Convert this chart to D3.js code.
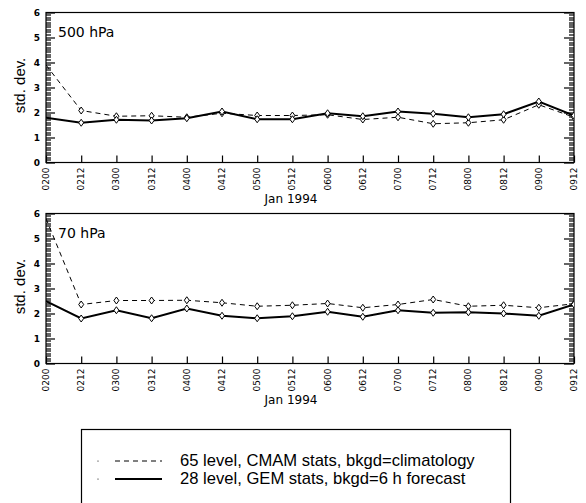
<!DOCTYPE html>
<html>
<head>
<meta charset="utf-8">
<script src="https://cdn.jsdelivr.net/npm/d3@7"></script>
<style>
	body { margin: 0; background: #fff; }
	svg { display: block; }
	.tick-label { font-family: "DejaVu Sans", sans-serif; font-size: 9px; }
	.panel-title { font-family: "DejaVu Sans", sans-serif; font-size: 14px; }
	.axis-title { font-family: "DejaVu Sans", sans-serif; font-size: 12px; }
	.ytitle { font-family: "Liberation Sans", Arial, sans-serif; font-size: 15px; }
	.legend-text { font-family: "Liberation Sans", Arial, sans-serif; font-size: 16.6px; }
</style>
</head>
<body>
<script>

// times (ddhh, Jan 1994)
const times = ['0200','0212','0300','0312','0400','0412','0500','0512',
	'0600','0612','0700','0712','0800','0812','0900','0912'];

const yTicks = [0, 1, 2, 3, 4, 5, 6];

// 500 hPa
const cmam500 = [3.9, 2.08, 1.85, 1.87, 1.81, 1.97, 1.88, 1.88,
	1.91, 1.72, 1.81, 1.55, 1.59, 1.71, 2.31, 1.81];
const gem500 = [1.79, 1.59, 1.71, 1.68, 1.77, 2.04, 1.73, 1.73,
	1.97, 1.85, 2.04, 1.95, 1.81, 1.93, 2.44, 1.88];

// 70 hPa
const cmam70 = [5.8, 2.36, 2.52, 2.52, 2.53, 2.43, 2.29, 2.33,
	2.4, 2.23, 2.36, 2.56, 2.29, 2.33, 2.23, 2.39];
const gem70 = [2.49, 1.8, 2.13, 1.81, 2.2, 1.91, 1.81, 1.89,
	2.07, 1.87, 2.13, 2.03, 2.05, 2.0, 1.91, 2.36];

const panels = [
	{title: '500 hPa', cmam: cmam500, gem: gem500, top: 12.5},
	{title: '70 hPa', cmam: cmam70, gem: gem70, top: 213.5}
];

const legendItems = [
	{label: '65 level, CMAM stats, bkgd=climatology', dash: '5,4', width: 1},
	{label: '28 level, GEM stats, bkgd=6 h forecast', dash: null, width: 2}
];

const width = 586, height = 503;
const left = 46, right = 574, ph = 150;

const svg = d3.select('body').append('svg')
	.attr('width', width)
	.attr('height', height);

const x = d3.scalePoint().domain(times).range([left, right]);

panels.forEach((p, pi) => {

	const y = d3.scaleLinear().domain([0, 6]).range([p.top + ph, p.top]);
	const g = svg.append('g');

	const clipId = 'clip' + pi;
	svg.append('clipPath').attr('id', clipId)
		.append('rect')
		.attr('x', left).attr('y', p.top)
		.attr('width', right - left).attr('height', ph);

	// frame
	g.append('rect')
		.attr('x', left).attr('y', p.top)
		.attr('width', right - left).attr('height', ph)
		.attr('fill', 'none').attr('stroke', '#000').attr('stroke-width', 1.2);

	// y ticks, inward on both sides (minor every 0.1)
	const minor = d3.range(0, 60.5).map(v => v / 10);
	const tickLen = (v, side) => Number.isInteger(v) ? (side ? 10 : 9) : 5;
	g.selectAll(null)
		.data(minor)
		.enter()
		.append('rect')
		.attr('x', left)
		.attr('y', v => Math.round(y(v)) - 0.6)
		.attr('width', v => tickLen(v, 0))
		.attr('height', 1.2)
		.attr('fill', '#000');
	g.selectAll(null)
		.data(minor)
		.enter()
		.append('rect')
		.attr('x', v => right - tickLen(v, 1))
		.attr('y', v => Math.round(y(v)) - 0.6)
		.attr('width', v => tickLen(v, 1))
		.attr('height', 1.2)
		.attr('fill', '#000');

	g.selectAll('.ylab')
		.data(yTicks)
		.enter()
		.append('text')
		.attr('class', 'tick-label')
		.attr('x', left - 6)
		.attr('y', d => y(d) + 3)
		.attr('text-anchor', 'end')
		.style('font-weight', 'bold')
		.text(d => d);

	// x ticks
	const xa = g.append('g').attr('transform', `translate(0,${p.top + ph})`)
		.call(d3.axisTop(x).tickSize(7).tickFormat(''));
	xa.select('.domain').remove();
	xa.selectAll('line').attr('stroke', '#000').attr('stroke-width', 1.2);

	g.selectAll('.xlab')
		.data(times)
		.enter()
		.append('text')
		.attr('class', 'tick-label')
		.attr('transform', d => `translate(${x(d) + 3},${p.top + ph + 5}) rotate(-90)`)
		.attr('text-anchor', 'end')
		.text(d => d);

	g.append('text')
		.attr('class', 'axis-title')
		.attr('x', 291)
		.attr('y', p.top + ph + 40)
		.attr('text-anchor', 'middle')
		.text('Jan 1994');

	g.append('text')
		.attr('class', 'ytitle')
		.attr('transform', `translate(25,${p.top + ph / 2 - 2}) rotate(-90)`)
		.attr('text-anchor', 'middle')
		.text('std. dev.');

	g.append('text')
		.attr('class', 'panel-title')
		.attr('x', left + 12)
		.attr('y', p.top + 24)
		.text(p.title);

	const line = d3.line().x((d, i) => x(times[i])).y(d => y(d));
	const plot = g.append('g').attr('clip-path', `url(#${clipId})`);

	[{data: p.cmam, dash: '5,4', w: 1}, {data: p.gem, dash: null, w: 2}].forEach(s => {
		plot.append('path')
			.datum(s.data)
			.attr('d', line)
			.attr('fill', 'none')
			.attr('stroke', '#000')
			.attr('stroke-width', s.w)
			.attr('stroke-dasharray', s.dash);

		plot.selectAll(null)
			.data(s.data.slice(1))
			.enter()
			.append('path')
			.attr('d', (d, i) => {
				const cx = x(times[i + 1]), cy = y(d);
				return `M${cx},${cy - 3.5}L${cx + 2.5},${cy}L${cx},${cy + 3.5}L${cx - 2.5},${cy}Z`;
			})
			.attr('fill', '#fff')
			.attr('stroke', '#000')
			.attr('stroke-width', 1);
	});
});

// legend
const lg = svg.append('g');
lg.append('rect')
	.attr('x', 81.5).attr('y', 429.5)
	.attr('width', 429).attr('height', 100)
	.attr('fill', 'none').attr('stroke', '#000').attr('stroke-width', 1.2);

legendItems.forEach((d, i) => {
	const ly = 461 + i * 18;
	lg.append('circle').attr('cx', 98).attr('cy', ly).attr('r', 0.6).attr('fill', '#000');
	lg.append('line')
		.attr('x1', 115).attr('x2', 162)
		.attr('y1', ly).attr('y2', ly)
		.attr('stroke', '#000')
		.attr('stroke-width', d.width)
		.attr('stroke-dasharray', d.dash);
	lg.append('text')
		.attr('class', 'legend-text')
		.attr('x', 180)
		.attr('y', ly + 5)
		.text(d.label);
});

</script>
</body>
</html>
